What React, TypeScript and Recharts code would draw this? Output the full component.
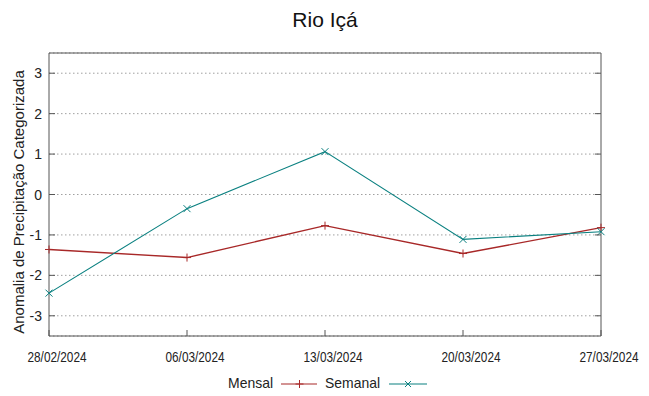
import React from 'react';
import { LineChart, Line, XAxis, YAxis, CartesianGrid, ReferenceLine } from 'recharts';

const dates = ['28/02/2024', '06/03/2024', '13/03/2024', '20/03/2024', '27/03/2024'];
const mensal = [-1.36, -1.56, -0.77, -1.46, -0.82];
const semanal = [-2.44, -0.35, 1.06, -1.11, -0.92];
const yTicks = [-3, -2, -1, 0, 1, 2, 3];

const RED = '#a82828';
const TEAL = '#0a8080';
const FONT = '"Liberation Sans", Arial, sans-serif';

document.body.style.margin = '0';

const data = dates.map((d, i) => ({ date: d, mensal: mensal[i], semanal: semanal[i] }));

function PlusDot(props: any) {
  const { cx, cy } = props;
  if (cx == null || cy == null) return null;
  return (
    <path d={`M${cx - 4},${cy}H${cx + 4}M${cx},${cy - 4}V${cy + 4}`} stroke={RED} strokeWidth={1} />
  );
}

function CrossDot(props: any) {
  const { cx, cy } = props;
  if (cx == null || cy == null) return null;
  return (
    <path
      d={`M${cx - 3.5},${cy - 3.5}L${cx + 3.5},${cy + 3.5}M${cx - 3.5},${cy + 3.5}L${cx + 3.5},${cy - 3.5}`}
      stroke={TEAL}
      strokeWidth={1}
    />
  );
}

// gnuplot draws the date labels in a condensed face, so squeeze them a bit
function XTick(props: any) {
  const { x, y, payload } = props;
  return (
    <g>
      <line x1={x} x2={x} y1={y - 8} y2={y - 14} stroke="#555" />
      <text
        x={x + 8}
        y={y + 18}
        textAnchor="middle"
        fontSize={14.4}
        fill="#222"
        fontFamily={FONT}
        textLength={59}
        lengthAdjust="spacingAndGlyphs"
      >
        {payload.value}
      </text>
    </g>
  );
}

function YTick(props: any) {
  const { x, y, payload } = props;
  return (
    <g>
      <line x1={x + 8} x2={x + 14} y1={y} y2={y} stroke="#555" />
      <line x1={x + 560} x2={x + 554} y1={y} y2={y} stroke="#555" />
      <text x={x + 1} y={y + 5} textAnchor="end" fontSize={14} fill="#222" fontFamily={FONT}>
        {payload.value}
      </text>
    </g>
  );
}

export default function App() {
  return (
    <div style={{ position: 'relative', width: 649, height: 396, background: '#fff' }}>
      <LineChart width={649} height={396} data={data} margin={{ top: 53, right: 48, bottom: 30, left: 19 }}>
        <CartesianGrid vertical={false} stroke="#a0a0a0" strokeDasharray="1.5 2.5" />
        <XAxis
          dataKey="date"
          height={30}
          tick={<XTick />}
          tickLine={false}
          axisLine={{ stroke: '#555' }}
          interval={0}
        />
        <YAxis
          domain={[-3.5, 3.5]}
          ticks={yTicks}
          width={30}
          tick={<YTick />}
          tickLine={false}
          axisLine={{ stroke: '#555' }}
          allowDataOverflow
        />
        <ReferenceLine y={3.5} stroke="#555" />
        <ReferenceLine x={dates[dates.length - 1]} stroke="#555" />
        <Line
          dataKey="mensal"
          stroke={RED}
          strokeWidth={1.4}
          dot={<PlusDot />}
          activeDot={false}
          isAnimationActive={false}
        />
        <Line
          dataKey="semanal"
          stroke={TEAL}
          strokeWidth={1.1}
          dot={<CrossDot />}
          activeDot={false}
          isAnimationActive={false}
        />
      </LineChart>
      <svg
        width={649}
        height={396}
        style={{ position: 'absolute', left: 0, top: 0, pointerEvents: 'none' }}
        fontFamily={FONT}
      >
        <text x={325} y={27} textAnchor="middle" fontSize={21} fill="#111">
          Rio Içá
        </text>
        <text
          x={0}
          y={0}
          transform="translate(24,202) rotate(-90)"
          textAnchor="middle"
          fontSize={15}
          fill="#222"
        >
          Anomalia de Precipitação Categorizada
        </text>
        <text x={228} y={388} fontSize={15} fill="#222" textLength={45} lengthAdjust="spacingAndGlyphs">
          Mensal
        </text>
        <line x1={281} x2={317} y1={384} y2={384} stroke={RED} strokeWidth={1.2} />
        <path d="M299.5,380V388M295.5,384H303.5" stroke={RED} strokeWidth={1} />
        <text x={325} y={388} fontSize={15} fill="#222" textLength={55} lengthAdjust="spacingAndGlyphs">
          Semanal
        </text>
        <line x1={389} x2={427} y1={384} y2={384} stroke={TEAL} strokeWidth={1.2} />
        <path d="M405,381L411,387M405,387L411,381" stroke={TEAL} strokeWidth={1} />
      </svg>
    </div>
  );
}
